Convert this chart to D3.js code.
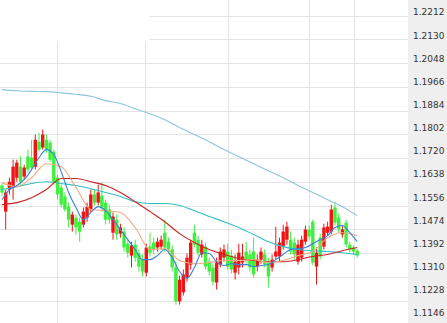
<!DOCTYPE html>
<html><head><meta charset="utf-8">
<script src="https://cdn.jsdelivr.net/npm/d3@7"></script>
<style>html,body{margin:0;padding:0;background:#fff;overflow:hidden}</style>
</head><body><svg id="c" width="447" height="323"></svg>
<script>
// ---- data ----
const priceTicks = [1.2212,1.2130,1.2048,1.1966,1.1884,1.1802,1.1720,1.1638,1.1556,1.1474,1.1392,1.1310,1.1228,1.1146];
const dateBreaks = [14.9, 38.65, 61.1, 83, 95.1];
const opens  = [1.1625,1.1535,1.1611,1.1621,1.1652,1.1690,1.1656,1.1725,1.1721,1.1690,1.1776,1.1756,1.1783,1.1773,1.1742,1.1652,1.1618,1.1587,1.1552,1.1490,1.1514,1.1500,1.1490,1.1514,1.1542,1.1594,1.1566,1.1590,1.1566,1.1542,1.1462,1.1507,1.1459,1.1466,1.1424,1.1383,1.1421,1.1390,1.1369,1.1324,1.1414,1.1428,1.1411,1.1414,1.1462,1.1431,1.1404,1.1342,1.1225,1.1256,1.1307,1.1352,1.1462,1.1438,1.1387,1.1414,1.1362,1.1342,1.1290,1.1352,1.1376,1.1397,1.1383,1.1324,1.1342,1.1359,1.1397,1.1387,1.1397,1.1345,1.1369,1.1387,1.1359,1.1342,1.1380,1.1380,1.1414,1.1438,1.1438,1.1428,1.1362,1.1376,1.1431,1.1473,1.1500,1.1345,1.1445,1.1414,1.1462,1.1466,1.1549,1.1514,1.1456,1.1497,1.1421,1.1411,1.1400];
const highs  = [1.1632,1.1611,1.1652,1.1714,1.1714,1.1725,1.1697,1.1749,1.1783,1.1801,1.1807,1.1818,1.1801,1.1783,1.1749,1.1663,1.1628,1.1601,1.1566,1.1535,1.1525,1.1514,1.1549,1.1566,1.1611,1.1611,1.1628,1.1635,1.1576,1.1559,1.1532,1.1525,1.1493,1.1480,1.1438,1.1431,1.1438,1.1404,1.1387,1.1424,1.1462,1.1445,1.1445,1.1452,1.1507,1.1445,1.1418,1.1362,1.1314,1.1335,1.1390,1.1438,1.1490,1.1452,1.1438,1.1428,1.1376,1.1355,1.1376,1.1411,1.1421,1.1424,1.1404,1.1387,1.1424,1.1424,1.1431,1.1404,1.1445,1.1387,1.1411,1.1404,1.1376,1.1387,1.1483,1.1445,1.1490,1.1500,1.1466,1.1445,1.1438,1.1452,1.1487,1.1487,1.1507,1.1411,1.1459,1.1493,1.1500,1.1559,1.1569,1.1528,1.1487,1.1507,1.1431,1.1418,1.1407];
const lows   = [1.1590,1.1473,1.1594,1.1576,1.1638,1.1628,1.1645,1.1670,1.1680,1.1680,1.1742,1.1749,1.1738,1.1707,1.1628,1.1576,1.1549,1.1535,1.1480,1.1466,1.1456,1.1431,1.1480,1.1500,1.1532,1.1556,1.1556,1.1535,1.1490,1.1493,1.1438,1.1438,1.1445,1.1397,1.1376,1.1342,1.1362,1.1328,1.1311,1.1311,1.1380,1.1387,1.1397,1.1404,1.1397,1.1390,1.1328,1.1214,1.1214,1.1245,1.1293,1.1335,1.1411,1.1383,1.1376,1.1335,1.1314,1.1280,1.1266,1.1342,1.1362,1.1335,1.1321,1.1300,1.1318,1.1342,1.1355,1.1328,1.1307,1.1328,1.1355,1.1342,1.1273,1.1328,1.1369,1.1362,1.1404,1.1421,1.1387,1.1369,1.1352,1.1362,1.1421,1.1438,1.1349,1.1283,1.1369,1.1404,1.1452,1.1456,1.1487,1.1462,1.1445,1.1411,1.1393,1.1387,1.1376];
const closes = [1.1601,1.1601,1.1638,1.1690,1.1704,1.1638,1.1687,1.1680,1.1687,1.1783,1.1749,1.1801,1.1749,1.1714,1.1638,1.1594,1.1559,1.1542,1.1507,1.1525,1.1480,1.1466,1.1535,1.1552,1.1594,1.1566,1.1601,1.1549,1.1507,1.1507,1.1518,1.1456,1.1480,1.1411,1.1393,1.1418,1.1376,1.1345,1.1328,1.1411,1.1393,1.1404,1.1431,1.1438,1.1411,1.1404,1.1342,1.1225,1.1300,1.1318,1.1376,1.1428,1.1421,1.1393,1.1421,1.1345,1.1328,1.1293,1.1359,1.1397,1.1404,1.1345,1.1335,1.1362,1.1393,1.1380,1.1369,1.1342,1.1318,1.1369,1.1397,1.1352,1.1311,1.1369,1.1397,1.1428,1.1466,1.1483,1.1397,1.1387,1.1421,1.1438,1.1473,1.1449,1.1359,1.1393,1.1380,1.1480,1.1483,1.1542,1.1497,1.1473,1.1473,1.1421,1.1404,1.1397,1.1383];
const maIdx = [0,4,8,12,16,20,24,28,32,36,40,44,48,52,56,60,64,68,72,76,80,84,88,92,96];
const maLong  = [1.1956,1.1952,1.1950,1.1949,1.1945,1.1940,1.1933,1.1918,1.1908,1.1890,1.1873,1.1852,1.1825,1.1801,1.1776,1.1749,1.1725,1.1700,1.1676,1.1652,1.1625,1.1601,1.1576,1.1552,1.1521];
const maCyan  = [1.1611,1.1621,1.1632,1.1638,1.1632,1.1625,1.1614,1.1601,1.1587,1.1569,1.1563,1.1563,1.1556,1.1538,1.1518,1.1500,1.1480,1.1456,1.1431,1.1414,1.1404,1.1400,1.1397,1.1393,1.1387];
const maRed   = [1.1559,1.1566,1.1583,1.1611,1.1649,1.1649,1.1638,1.1625,1.1601,1.1569,1.1535,1.1500,1.1459,1.1428,1.1404,1.1387,1.1373,1.1366,1.1362,1.1362,1.1369,1.1380,1.1387,1.1400,1.1411];
const maOrange= [1.1635,1.1621,1.1652,1.1700,1.1690,1.1618,1.1542,1.1538,1.1532,1.1480,1.1404,1.1407,1.1366,1.1355,1.1359,1.1366,1.1366,1.1369,1.1359,1.1366,1.1383,1.1397,1.1445,1.1462,1.1452];
const ma5Idx = [0,2,4,6,8,10,12,14,16,18,20,22,24,26,28,30,32,34,36,38,40,42,44,46,48,50,52,54,56,58,60,62,64,66,68,70,72,74,76,78,80,82,84,86,88,90,92,94,96];
const maBlue = [1.1576,1.1611,1.1625,1.1645,1.1680,1.1721,1.1749,1.1732,1.1673,1.1601,1.1549,1.1507,1.1532,1.1552,1.1538,1.1507,1.1473,1.1438,1.1404,1.1369,1.1369,1.1383,1.1404,1.1376,1.1328,1.1304,1.1342,1.1393,1.1390,1.1362,1.1349,1.1355,1.1352,1.1352,1.1345,1.1349,1.1352,1.1369,1.1387,1.1404,1.1407,1.1411,1.1424,1.1438,1.1452,1.1480,1.1487,1.1462,1.1431];

// ---- layout ----
const W = 447, H = 323, plotRight = 408;
const svg = d3.select('#c');
const x = d3.scaleLinear().domain([0, opens.length - 1]).range([2, 357.2]);
const y = d3.scaleLinear().domain([1.1228, 1.2212]).range([300.5, 15.5]);
const yLabel = d3.scaleLinear().domain([1.1146, 1.2212]).range([313, 12]);

// gridlines
const gridTicks = priceTicks.filter(v => v >= 1.1228 - 1e-9);
svg.append('g').attr('transform', `translate(${plotRight},0)`)
  .call(d3.axisLeft(y).tickValues(gridTicks).tickSize(plotRight).tickFormat(''))
  .call(g => g.select('.domain').remove())
  .call(g => g.selectAll('line').attr('stroke', '#e4e4e4').attr('shape-rendering','crispEdges'));
svg.append('g').attr('transform', `translate(0,${H})`)
  .call(d3.axisTop(x).tickValues(dateBreaks).tickSize(H).tickFormat(''))
  .call(g => g.select('.domain').remove())
  .call(g => g.selectAll('line').attr('stroke', '#e4e4e4').attr('shape-rendering','crispEdges'));

// legend area (blank)
svg.append('rect').attr('x', 0).attr('y', 0).attr('width', 150).attr('height', 42).attr('fill', '#fff');

// right axis panel
svg.append('rect').attr('x', plotRight).attr('y', 0).attr('width', W - plotRight).attr('height', H).attr('fill', '#efefef');
svg.append('g').attr('transform', `translate(${plotRight},0)`)
  .call(d3.axisRight(yLabel).tickValues(priceTicks).tickSize(0).tickPadding(5).tickFormat(d3.format('.4f')))
  .call(g => g.select('.domain').remove())
  .call(g => g.selectAll('text').attr('font-family', 'DejaVu Sans, Verdana, sans-serif').attr('font-size', 9).attr('fill', '#333'));

// candles
const idx = d3.range(opens.length);
const up = i => closes[i] >= opens[i];
const colR = '#f01414', colG = '#3cf03c';
const cg = svg.append('g');
cg.selectAll('line').data(idx).join('line')
  .attr('x1', i => x(i)).attr('x2', i => x(i))
  .attr('y1', i => y(highs[i])).attr('y2', i => y(lows[i]))
  .attr('stroke', i => up(i) ? colR : colG).attr('stroke-width', 1);
cg.selectAll('rect').data(idx).join('rect')
  .attr('x', i => x(i) - 1.7).attr('width', 3.4)
  .attr('y', i => y(Math.max(opens[i], closes[i])))
  .attr('height', i => Math.max(1, Math.abs(y(opens[i]) - y(closes[i]))))
  .attr('fill', i => up(i) ? colR : colG);

// moving averages
function ma(ix, vals, color) {
  const line = d3.line().x(d => x(d[0])).y(d => y(d[1])).curve(d3.curveMonotoneX);
  svg.append('path').datum(ix.map((k, j) => [k, vals[j]]))
    .attr('d', line).attr('fill', 'none').attr('stroke', color).attr('stroke-width', 1.1);
}
ma(maIdx, maLong, '#8cc6dc');
ma(maIdx, maCyan, '#2fc0c6');
ma(maIdx, maRed, '#cc2222');
ma(maIdx, maOrange, '#eeaa80');
ma(ma5Idx, maBlue, '#3b7fd8');
</script></body></html>
